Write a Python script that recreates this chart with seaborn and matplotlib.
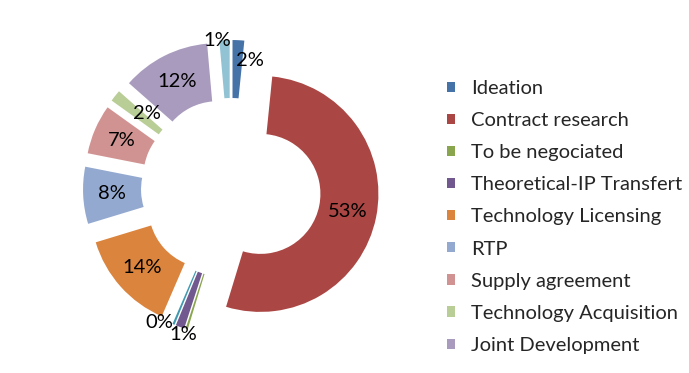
import matplotlib
matplotlib.use("Agg")
import matplotlib.pyplot as plt
import seaborn as sns
from matplotlib.patches import Patch

# ---- data ----
categories = ["Ideation", "Contract research", "To be negociated",
              "Theoretical-IP Transfert", "Unlabelled A", "Technology Licensing",
              "RTP", "Supply agreement", "Technology Acquisition",
              "Joint Development", "Unlabelled B"]
values = [1.6, 53.1, 0.3, 1.2, 0.3, 13.8, 7.8, 6.8, 1.6, 12.1, 1.4]
in_legend = [True, True, True, True, False, True, True, True, True, True, False]
colors = ["#4572A7", "#AA4643", "#89A54E", "#71588F", "#4198AF", "#DB843D",
          "#93A9CF", "#D19392", "#B9CD96", "#A99BBD", "#92C3D4"]

sns.set_theme(style="white")
plt.rcParams['font.family'] = ['Lato', 'DejaVu Sans']

W, H = 689, 373
fig = plt.figure(figsize=(W / 100, H / 100), dpi=100)
ax = fig.add_axes([0, 0, 1, 1])

cx, cy = 231, H - 188
R, ring, expl = 118, 58, 30
FS = 14.5

wedges, texts, autotexts = ax.pie(
    values, colors=colors, startangle=90, counterclock=False,
    radius=R, center=(cx, cy), explode=[expl] * len(values),
    wedgeprops=dict(width=ring, linewidth=0),
    autopct=lambda p: f"{p:.0f}%", pctdistance=(R - ring / 2) / R,
    textprops=dict(fontsize=FS, color="black"))

# nudge crowded labels (Excel-style placement)
nudges = {0: (13, 9), 10: (-9, 29), 8: (9, 0), 3: (-7, -35), 4: (-25, -25)}
for i, (dx, dy) in nudges.items():
    x, y = autotexts[i].get_position()
    autotexts[i].set_position((x + dx, y + dy))
autotexts[2].set_visible(False)

ax.set_xlim(0, W)
ax.set_ylim(0, H)
ax.set_aspect("equal")
ax.axis("off")

handles = [Patch(facecolor=c, edgecolor="none") for c, k in zip(colors, in_legend) if k]
labels = [n for n, k in zip(categories, in_legend) if k]
ax.legend(handles, labels, loc="upper left", bbox_to_anchor=(447, H - 80),
          bbox_transform=ax.transData, frameon=False, fontsize=FS,
          handlelength=0.4, handleheight=0.4, handletextpad=0.8,
          labelspacing=0.75, borderpad=0, borderaxespad=0)

fig.savefig("out.png", dpi=100)
